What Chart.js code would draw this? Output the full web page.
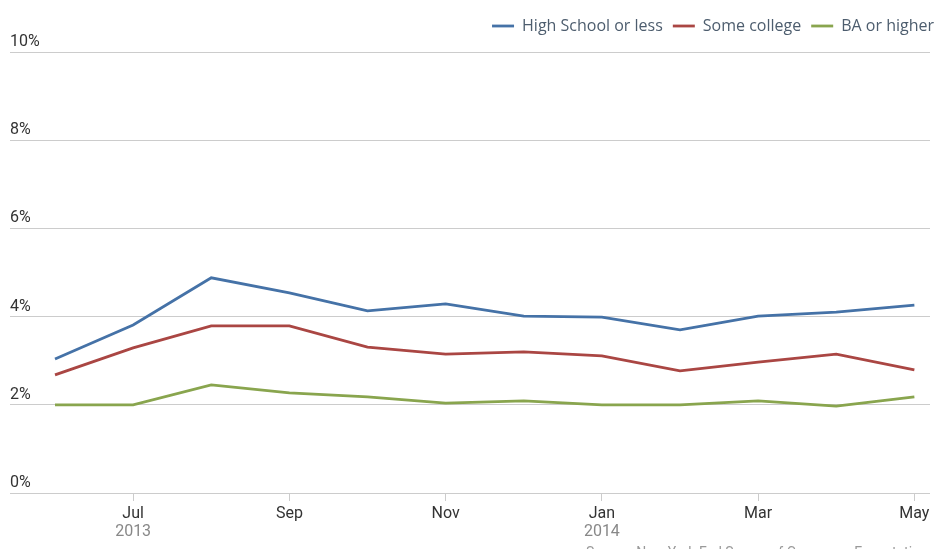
<!DOCTYPE html>
<html>
<head>
<meta charset="utf-8">
<script src="https://cdn.jsdelivr.net/npm/chart.js@4.4.1/dist/chart.umd.min.js"></script>
<style>
  html, body { margin: 0; padding: 0; background: #fff; }
  #wrap { width: 935px; height: 549px; position: relative; }
</style>
</head>
<body>
<div id="wrap"><canvas id="eduChart"></canvas></div>
<script>
// months Jun 2013 .. May 2014
const months = ["Jun", "Jul", "Aug", "Sep", "Oct", "Nov", "Dec", "Jan", "Feb", "Mar", "Apr", "May"];
const years = { 1: "2013", 7: "2014" };

const highSchool = [3.04, 3.81, 4.88, 4.54, 4.13, 4.29, 4.01, 3.99, 3.70, 4.01, 4.10, 4.26];
const someCollege = [2.68, 3.29, 3.79, 3.79, 3.31, 3.15, 3.20, 3.11, 2.77, 2.97, 3.15, 2.79];
const baOrHigher = [2.00, 2.00, 2.45, 2.27, 2.18, 2.04, 2.09, 2.00, 2.00, 2.09, 1.97, 2.18];

const yTicks = [0, 2, 4, 6, 8, 10];

const axisFont = "Roboto, 'Liberation Sans', sans-serif";

const toPoints = (arr) => arr.map((v, i) => ({ x: i, y: v }));

// extra room between the legend and the plot, and push legend to the right edge
const legendTweak = {
  id: "legendTweak",
  beforeLayout(chart) {
    const lg = chart.legend;
    if (lg && !lg._gapPatched) {
      const origFit = lg.fit;
      lg.fit = function () {
        origFit.call(this);
        this.height += 8;
      };
      lg._gapPatched = true;
    }
  },
  afterLayout(chart) {
    const lg = chart.legend;
    if (lg) {
      lg.left += 14;
      lg.right += 14;
    }
  },
};

// year labels under Jul / Jan, in lighter grey
const yearLabels = {
  id: "yearLabels",
  afterDraw(chart) {
    const ctx = chart.ctx;
    const xs = chart.scales.x;
    ctx.save();
    ctx.font = "16px " + axisFont;
    ctx.fillStyle = "#888888";
    ctx.textAlign = "center";
    ctx.textBaseline = "middle";
    Object.keys(years).forEach((k) => {
      ctx.fillText(years[k], xs.getPixelForValue(Number(k)), 532);
    });
    // source line, mostly cut off at the bottom edge
    ctx.font = "14px " + axisFont;
    ctx.fillStyle = "#999999";
    ctx.textAlign = "right";
    ctx.textBaseline = "top";
    ctx.fillText("Source: New York Fed Survey of Consumer Expectations", 935, 546);
    ctx.restore();
  },
};

const lineStyle = (color) => ({
  borderColor: color,
  backgroundColor: color,
  borderWidth: 2.8,
  pointRadius: 0,
  tension: 0,
  fill: false,
});

new Chart(document.getElementById("eduChart"), {
  type: "line",
  data: {
    datasets: [
      { label: "High School or less", data: toPoints(highSchool), ...lineStyle("#4572A7") },
      { label: "Some college", data: toPoints(someCollege), ...lineStyle("#AA4643") },
      { label: "BA or higher", data: toPoints(baOrHigher), ...lineStyle("#89A54E") },
    ],
  },
  options: {
    responsive: true,
    maintainAspectRatio: false,
    animation: false,
    layout: { padding: { left: 10, right: 5, top: 8, bottom: 0 } },
    plugins: {
      tooltip: { enabled: false },
      legend: {
        display: true,
        position: "top",
        align: "end",
        labels: {
          usePointStyle: true,
          pointStyle: "line",
          pointStyleWidth: 22,
          boxHeight: 3,
          padding: 10,
          color: "#4d5d6e",
          font: { size: 16, family: "'Open Sans', sans-serif" },
        },
      },
    },
    scales: {
      x: {
        type: "linear",
        min: -0.576,
        max: 11.2,
        afterBuildTicks(scale) {
          scale.ticks = months
            .map((m, i) => ({ value: i }))
            .filter((t) => t.value % 2 === 1);
        },
        afterFit(scale) {
          scale.height = 56;
        },
        grid: {
          drawOnChartArea: false,
          drawTicks: true,
          tickLength: 8,
          color: "#cccccc",
        },
        border: { display: false },
        ticks: {
          autoSkip: false,
          maxRotation: 0,
          padding: 3,
          color: "#333333",
          font: { size: 16, family: axisFont },
          callback: (v) => months[v],
        },
      },
      y: {
        min: 0,
        max: 10,
        afterBuildTicks(scale) {
          scale.ticks = yTicks.map((v) => ({ value: v }));
        },
        grid: { color: "#cccccc", lineWidth: 1, drawTicks: false },
        border: { display: false },
        ticks: {
          mirror: true,
          padding: 0,
          labelOffset: -10,
          color: "#333333",
          font: { size: 16, family: axisFont },
          callback: (v) => v + "%",
        },
      },
    },
  },
  plugins: [legendTweak, yearLabels],
});
</script>
</body>
</html>
